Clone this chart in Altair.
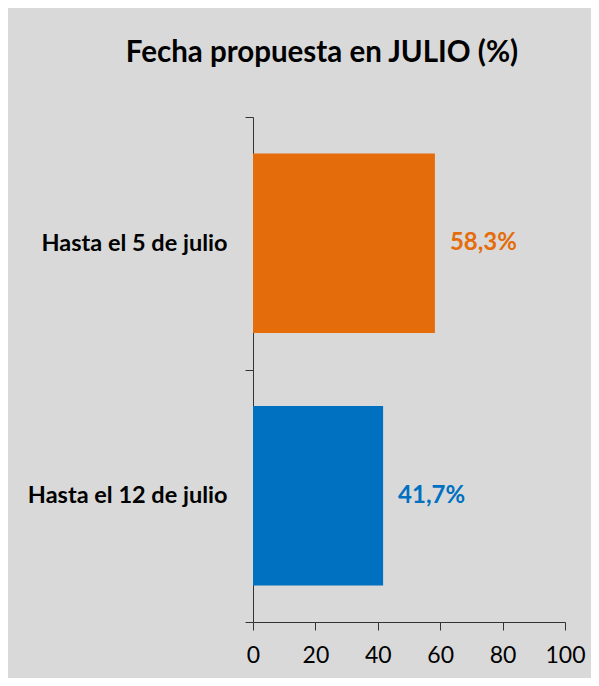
import altair as alt
import pandas as pd

categories = ["Hasta el 5 de julio", "Hasta el 12 de julio"]
values = [58.3, 41.7]
colors = ["#E46C0A", "#0070C0"]
x_ticks = [0, 20, 40, 60, 80, 100]

df = pd.DataFrame({"cat": categories, "val": values, "color": colors})
df["label"] = df["val"].map(lambda v: f"{v:.1f}".replace(".", ",") + "%")

FONT = "Lato"

base = alt.Chart(df).encode(
    y=alt.Y("cat:N", sort=categories, title=None,
            scale=alt.Scale(paddingInner=0, paddingOuter=0),
            axis=alt.Axis(labelFont=FONT, labelFontSize=23.5, labelFontWeight="bold",
                          labelColor="#000000", labelPadding=18, tickBand="extent",
                          tickSize=8, tickColor="#333333", domainColor="#333333",
                          labelLimit=300)),
)

bars = base.mark_bar(height=alt.RelativeBandSize(band=0.71)).encode(
    x=alt.X("val:Q", title=None, scale=alt.Scale(domain=[0, 100], nice=False),
            axis=alt.Axis(values=x_ticks, labelFont=FONT, labelFontSize=23,
                          labelColor="#000000", labelPadding=14, tickSize=8,
                          tickColor="#333333", domainColor="#333333", grid=False,
                          labelFlush=False)),
    color=alt.Color("color:N", scale=None),
)

text = base.mark_text(align="left", dx=15, font=FONT, fontSize=24, fontWeight="bold").encode(
    x="val:Q",
    text="label:N",
    color=alt.Color("color:N", scale=None),
)

chart = (bars + text).properties(
    width=312,
    height=505,
    background="#D9D9D9",
    autosize=alt.AutoSizeParams(type="none"),
    padding={"left": 245, "top": 109, "right": 26, "bottom": 56},
    title=alt.TitleParams("Fecha propuesta en JULIO (%)", font=FONT, fontSize=29.5,
                          fontWeight="bold", color="#000000", anchor="middle",
                          dx=-87, offset=37),
).configure_view(stroke=None).configure_axis(grid=False)

chart.save("out.html", embed_options={"renderer": "svg", "actions": False})
